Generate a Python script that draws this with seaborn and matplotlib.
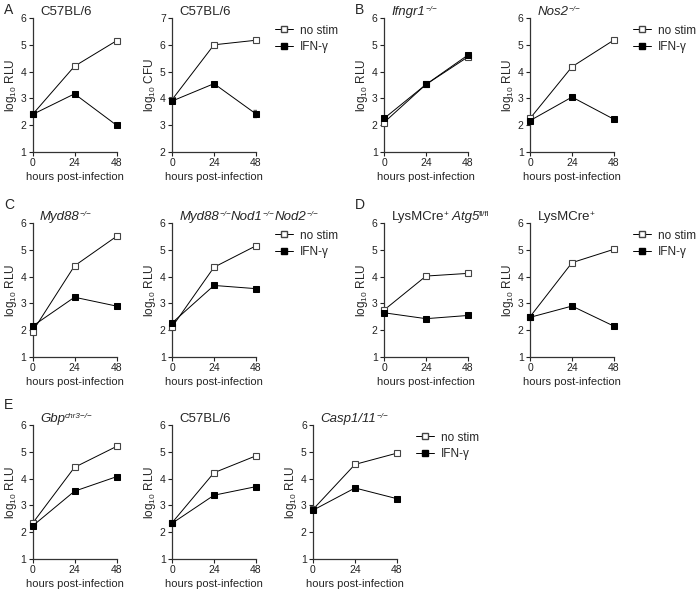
import numpy as np
import pandas as pd
import seaborn as sns
from matplotlib import pyplot as plt
from matplotlib.lines import Line2D

sns.set_style("ticks")
plt.rcParams["font.family"] = ["Liberation Sans", "DejaVu Sans"]
plt.rcParams["mathtext.fontset"] = "custom"
plt.rcParams["mathtext.rm"] = "Liberation Sans"
plt.rcParams["mathtext.it"] = "Liberation Sans:italic"

hours = [0, 24, 48]

# panel titles as (text, italic, superscript) pieces
titles = [
    [("C57BL/6", False, False)],
    [("C57BL/6", False, False)],
    [("Ifngr1", True, False), ("−/−", True, True)],
    [("Nos2", True, False), ("−/−", True, True)],
    [("Myd88", True, False), ("−/−", True, True)],
    [("Myd88", True, False), ("−/−", True, True), ("Nod1", True, False),
     ("−/−", True, True), ("Nod2", True, False), ("−/−", True, True)],
    [("LysMCre", False, False), ("+", False, True), (" Atg5", True, False),
     ("fl/fl", False, True)],
    [("LysMCre", False, False), ("+", False, True)],
    [("Gbp", True, False), ("chr3−/−", True, True)],
    [("C57BL/6", False, False)],
    [("Casp1/11", True, False), ("−/−", True, True)],
]

ylabels = ["RLU", "CFU", "RLU", "RLU", "RLU", "RLU", "RLU", "RLU", "RLU", "RLU", "RLU"]

no_stim = [
    [2.40, 4.20, 5.15],
    [3.95, 6.00, 6.17],
    [2.10, 3.52, 4.55],
    [2.25, 4.18, 5.18],
    [1.95, 4.40, 5.50],
    [2.12, 4.35, 5.15],
    [2.75, 4.02, 4.12],
    [2.50, 4.52, 5.02],
    [2.33, 4.42, 5.20],
    [2.35, 4.22, 4.85],
    [2.85, 4.53, 4.95],
]
ifn_gamma = [
    [2.40, 3.17, 2.00],
    [3.90, 4.55, 3.42],
    [2.25, 3.52, 4.62],
    [2.17, 3.05, 2.22],
    [2.15, 3.23, 2.90],
    [2.27, 3.67, 3.55],
    [2.65, 2.43, 2.55],
    [2.48, 2.90, 2.15],
    [2.23, 3.53, 4.07],
    [2.33, 3.38, 3.70],
    [2.82, 3.65, 3.25],
]
ifn_err = [0, 0.13, 0, 0, 0, 0, 0, 0, 0, 0, 0]  # only the CFU panel at 48 h
ylims = [(1, 6), (2, 7)] + [(1, 6)] * 9

# layout in pixels (left, top) of each axes box
W, H = 700, 593
lefts = [32.5, 172, 384, 530, 32.5, 172, 384, 530, 32.5, 172, 313]
tops = [18, 18, 18, 18, 223, 223, 223, 223, 425, 425, 425]
aw, ah = 84, 134
legend_panels = [1, 3, 5, 7, 10]
letters = {"A": (4, 10), "B": (355, 10), "C": (4, 205), "D": (355, 205), "E": (4, 405)}


def draw_title(ax, pieces, size=9.5):
    base = None
    prev = None
    for text, italic, sup in pieces:
        style = "italic" if italic else "normal"
        if base is None:
            prev = ax.text(0.09, 1.0, text, transform=ax.transAxes, fontsize=size,
                           style=style, ha="left", va="bottom")
            base = prev
        else:
            y = 0.42 if sup else 0.0
            fs = size * 0.62 if sup else size
            prev = ax.annotate(text, xy=(1, y), xycoords=(prev, base),
                               fontsize=fs, style=style, ha="left", va="bottom")


fig = plt.figure(figsize=(7.0, 5.93), dpi=100)

for i in range(11):
    ax = fig.add_axes([lefts[i] / W, 1 - (tops[i] + ah) / H, aw / W, ah / H])
    df = pd.DataFrame({"h": hours, "no": no_stim[i], "ifn": ifn_gamma[i]})
    sns.lineplot(data=df, x="h", y="no", ax=ax, color="black", lw=0.7,
                 marker="s", ms=4, mfc="white", mec="#444444", mew=0.8,
                 clip_on=False, zorder=3)
    if ifn_err[i] > 0:
        ax.errorbar(hours[2], ifn_gamma[i][2], yerr=ifn_err[i], color="#666666",
                    capsize=2, lw=0.8, zorder=2)
    sns.lineplot(data=df, x="h", y="ifn", ax=ax, color="black", lw=0.7,
                 marker="s", ms=5, mfc="black", mec="black",
                 clip_on=False, zorder=4)
    ax.set_xlim(0, 48)
    ax.set_ylim(*ylims[i])
    ax.set_xticks(hours)
    ax.set_yticks(np.arange(ylims[i][0], ylims[i][1] + 1))
    ax.tick_params(labelsize=7.5, length=3, width=0.8, pad=1.5, colors="#222222")
    for s in ["left", "bottom"]:
        ax.spines[s].set_linewidth(0.9)
        ax.spines[s].set_color("#333333")
    sns.despine(ax=ax)
    ax.set_xlabel("hours post-infection", fontsize=8, labelpad=3)
    ax.set_ylabel(r"log$_{10}$ " + ylabels[i], fontsize=8.5, labelpad=1)
    draw_title(ax, titles[i])
    if i in legend_panels:
        handles = [
            Line2D([], [], color="black", lw=0.7, marker="s", ms=4, mfc="white",
                   mec="#444444"),
            Line2D([], [], color="black", lw=0.7, marker="s", ms=5, mfc="black"),
        ]
        ax.legend(handles, ["no stim", "IFN-γ"], loc="upper left",
                  bbox_to_anchor=(1.1, 1.03), frameon=False, fontsize=8.5,
                  handlelength=1.5, handletextpad=0.6, labelspacing=0.35)

for letter, (x, y) in letters.items():
    fig.text(x / W, 1 - y / H, letter, fontsize=10, ha="left", va="center")

fig.savefig("out.png", dpi=100)
